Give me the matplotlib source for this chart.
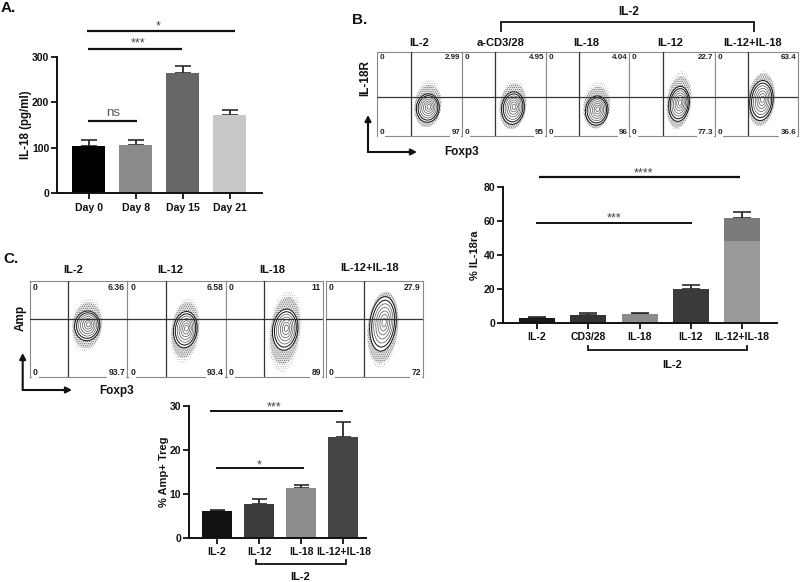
import matplotlib
matplotlib.use("Agg")
import matplotlib.pyplot as plt
from matplotlib.patches import Ellipse

plt.rcParams['font.family'] = ['Liberation Sans', 'DejaVu Sans']
plt.rcParams['font.weight'] = 'bold'
plt.rcParams['hatch.linewidth'] = 0.45

W, H = 800, 582

# Panel A
a_labels = ['Day 0', 'Day 8', 'Day 15', 'Day 21']
a_values = [103, 105, 264, 171]
a_upper = [118, 117, 281, 184]
a_colors = ['#000000', '#8a8a8a', '#666666', '#c8c8c8']
a_ticks = [0, 100, 200, 300]

# Panel B bars
b_labels = ['IL-2', 'CD3/28', 'IL-18', 'IL-12', 'IL-12+IL-18']
b_values = [2.5, 4.3, 5, 20, 62]
b_lower_part = [0, 0, 0, 0, 48]
b_upper = [3.2, 5.5, 6, 22.5, 65.5]
b_colors = ['#1a1a1a', '#333333', '#8c8c8c', '#3a3a3a', '#7a7a7a']
b_lower_color = '#999999'
b_ticks = [0, 20, 40, 60, 80]

# Panel C bars
c_labels = ['IL-2', 'IL-12', 'IL-18', 'IL-12+IL-18']
c_values = [6, 7.7, 11.3, 23]
c_upper = [6.4, 8.9, 11.9, 26.3]
c_colors = ['#111111', '#3c3c3c', '#8c8c8c', '#444444']
c_ticks = [0, 10, 20, 30]

# Flow panels B
fb_titles = ['IL-2', 'a-CD3/28', 'IL-18', 'IL-12', 'IL-12+IL-18']
fb_upper = ['2.99', '4.95', '4.04', '22.7', '63.4']
fb_lower = ['97', '95', '96', '77.3', '36.6']
fb_center_x = [60, 61, 61, 58, 56]
fb_center_y = [33, 33, 30, 38, 42]
fb_width = [27, 27, 27, 24, 28]
fb_height = [34, 39, 35, 42, 48]
fb_halo_y = [38, 37, 37, 42, 44]
fb_halo_w = [32, 32, 32, 29, 28]
fb_halo_h = [58, 60, 56, 70, 66]

# Flow panels C
fc_titles = ['IL-2', 'IL-12', 'IL-18', 'IL-12+IL-18']
fc_upper = ['6.36', '6.58', '11', '27.9']
fc_lower = ['93.7', '93.4', '89', '72']
fc_center_x = [59, 59, 61, 59]
fc_center_y = [53, 49, 49, 55]
fc_width = [26, 24, 26, 27]
fc_height = [31, 38, 43, 57]
fc_halo_y = [54, 48, 47, 48]
fc_halo_w = [31, 29, 33, 30]
fc_halo_h = [55, 68, 85, 78]

contour_levels = [1.0, 0.86, 0.72, 0.58, 0.44, 0.3, 0.16]

fig = plt.figure(figsize=(W / 100, H / 100), dpi=100, facecolor='white')


def box(l, t, r, b):
    return [l / W, 1 - b / H, (r - l) / W, (b - t) / H]


def bar_panel(rect, labels, values, upper, colors, ticks, ylim, spacing, center0, barw, lower=None, lower_color=None):
    l, t, r, b = rect
    ax = fig.add_axes(box(l, t, r, b))
    ax.patch.set_alpha(0)
    x = list(range(len(labels)))
    ax.set_xlim((l - center0) / spacing, (r - center0) / spacing)
    ax.set_ylim(0, ylim)
    width = barw / spacing
    ax.bar(x, values, width=width, color=colors, linewidth=0, zorder=2)
    if lower:
        ax.bar(x, lower, width=width, color=lower_color, linewidth=0, zorder=2.1)
    for xi, v, u in zip(x, values, upper):
        ax.errorbar(xi, v, yerr=[[0], [u - v]], ecolor='#2a2a2a', elinewidth=1.3, capsize=barw * 0.18,
                    capthick=1.2, zorder=1.5)
    ax.set_xticks(x)
    ax.set_xticklabels(labels, fontsize=7.6, fontweight='bold')
    ax.set_yticks(ticks)
    ax.tick_params(axis='y', labelsize=7.5, width=1.3, length=4, pad=1.5, colors='#111111')
    ax.tick_params(axis='x', width=1.3, length=4, pad=3, colors='#111111')
    for s in ('top', 'right'):
        ax.spines[s].set_visible(False)
    for s in ('left', 'bottom'):
        ax.spines[s].set_linewidth(1.4)
        ax.spines[s].set_color('#111111')
    return ax


bar_panel((57, 57, 262, 193), a_labels, a_values, a_upper, a_colors, a_ticks, 300, 47, 89, 33)
bar_panel((503, 187, 777, 322.7), b_labels, b_values, b_upper, b_colors, b_ticks, 80, 51.3, 537, 36,
          lower=b_lower_part, lower_color=b_lower_color)
bar_panel((189, 406, 366, 537.7), c_labels, c_values, c_upper, c_colors, c_ticks, 30, 42.1, 217, 30)


def flow_panel(rect, vx, hy, cx, cy, w, h, hy0, hw, hh, up, low, fs):
    l, t, r, b = rect
    ax = fig.add_axes(box(l, t, r, b))
    ax.set_xlim(0, 100)
    ax.set_ylim(0, 100)
    ax.set_xticks([])
    ax.set_yticks([])
    for s in ax.spines.values():
        s.set_color('#8a8a8a')
        s.set_linewidth(0.8)
    ax.add_patch(Ellipse((cx, hy0), hw, hh, angle=-6, facecolor='white', edgecolor='#b5b5b5',
                         hatch='.......', linewidth=0, zorder=1))
    ax.add_patch(Ellipse((cx, (hy0 + cy) / 2), w * 1.16, (hh + h) * 0.55, angle=-6, facecolor='#e2e2e2',
                         edgecolor='#666666', hatch='........', linewidth=0, zorder=1.2))
    for i, s in enumerate(contour_levels):
        lw = 0.75 if i < 2 else 0.5
        col = '#1a1a1a' if i < 2 else '#555555'
        ax.add_patch(Ellipse((cx + 0.2 * i, cy + i * 0.25), w * s, h * s, angle=-6,
                             facecolor='white' if i == 0 else 'none', edgecolor=col, linewidth=lw, zorder=2))
    ax.axvline(vx, color='#333333', lw=0.9, zorder=3)
    ax.axhline(hy, color='#333333', lw=0.9, zorder=3)
    wb = dict(facecolor='white', edgecolor='none', pad=0.8)
    ax.text(3, 93, '0', fontsize=fs, ha='left', va='center', color='#222222', zorder=4)
    ax.text(3, 4, '0', fontsize=fs, ha='left', va='center', color='#222222', zorder=4, bbox=wb)
    ax.text(98, 93, up, fontsize=fs, ha='right', va='center', color='#222222', zorder=4)
    ax.text(98, 4, low, fontsize=fs, ha='right', va='center', color='#222222', zorder=4, bbox=wb)
    return ax


b_edges = [377, 461.7, 545.7, 629.3, 715, 798]
b_vlines = [411, 495, 579, 663, 748]
for i in range(5):
    rect = (b_edges[i], 52, b_edges[i + 1], 135.7)
    vx = (b_vlines[i] - rect[0]) / (rect[2] - rect[0]) * 100
    flow_panel(rect, vx, 46.5, fb_center_x[i], fb_center_y[i], fb_width[i], fb_height[i],
               fb_halo_y[i], fb_halo_w[i], fb_halo_h[i], fb_upper[i], fb_lower[i], 5.8)

c_lefts = [30, 127.5, 226, 325.7]
c_rights = [127, 225.5, 323, 422.7]
c_vlines = [68, 166, 264, 364]
for i in range(4):
    rect = (c_lefts[i], 280.7, c_rights[i], 376.7)
    vx = (c_vlines[i] - rect[0]) / (rect[2] - rect[0]) * 100
    flow_panel(rect, vx, 60.5, fc_center_x[i], fc_center_y[i], fc_width[i], fc_height[i],
               fc_halo_y[i], fc_halo_w[i], fc_halo_h[i], fc_upper[i], fc_lower[i], 6.2)

# Overlay in pixel coordinates for annotation
ov = fig.add_axes([0, 0, 1, 1])
ov.set_xlim(0, W)
ov.set_ylim(H, 0)
ov.axis('off')
ov.patch.set_alpha(0)


def hline(x0, x1, y, lw=1.6):
    ov.plot([x0, x1], [y, y], color='#111111', lw=lw, solid_capstyle='butt')


def t(x, y, s, fs=8, rot=0, weight='bold', color='#111111'):
    ov.text(x, y, s, fontsize=fs, rotation=rot, fontweight=weight, color=color, ha='center', va='center')


def bracket(x0, x1, y, tip):
    ov.plot([x0, x0, x1, x1], [tip, y, y, tip], color='#111111', lw=1.3, solid_joinstyle='miter')


def arrows(x, y, top, right):
    for end in ((x, top), (right, y)):
        ov.annotate('', xy=end, xytext=(x, y),
                    arrowprops=dict(arrowstyle='-|>,head_width=0.18,head_length=0.35', color='#111111', lw=1.5,
                                    shrinkA=0, shrinkB=0))


STAR = 9
# Panel letters
t(8, 8, 'A.', 11)
t(360, 20, 'B.', 11)
t(11, 259, 'C.', 11)

# Panel A annotations
hline(87, 235, 31)
hline(88, 182, 48.7)
hline(88, 137, 121)
t(158, 26, '*', STAR, weight='normal', color='#444444')
t(138, 43, '***', STAR, weight='normal', color='#444444')
t(113, 113, 'ns', 9.5, weight='normal', color='#555555')
t(26, 125, 'IL-18 (pg/ml)', 8.3, rot=90)

# Panel B annotations
bracket(501, 754, 21.7, 30.7)
t(629, 12, 'IL-2', 8.5)
for x, s in zip([419, 500.7, 586, 670, 753], fb_titles):
    t(x, 43, s, 8)
t(365, 78, 'IL-18R', 8.5, rot=90)
t(461.7, 152, 'Foxp3', 8.5)
arrows(368, 152, 115, 417)
hline(538.7, 740, 177)
hline(536, 692, 223, 1.4)
t(643, 173, '****', STAR, weight='normal', color='#444444')
t(614, 218, '***', STAR, weight='normal', color='#444444')
t(475, 255, '% IL-18ra', 8, rot=90)
bracket(587.7, 747, 350, 346)
t(672, 365, 'IL-2', 8)

# Panel C annotations
for x, y, s in zip([73, 170.7, 272.7, 369.3], [270, 270, 270, 268], fc_titles):
    t(x, y, s, 8)
t(20.7, 318, 'Amp', 8.5, rot=90)
t(116.7, 390.7, 'Foxp3', 8.5)
arrows(22.7, 390, 353, 72)
hline(210, 343, 411, 1.4)
hline(216, 304, 468, 1.4)
t(274, 407, '***', STAR, weight='normal', color='#444444')
t(259, 465, '*', STAR, weight='normal', color='#444444')
t(164, 472, '% Amp+ Treg', 8, rot=90)
bracket(255.7, 345.7, 564, 560)
t(300, 577, 'IL-2', 8)

fig.savefig('out.png', dpi=100)
